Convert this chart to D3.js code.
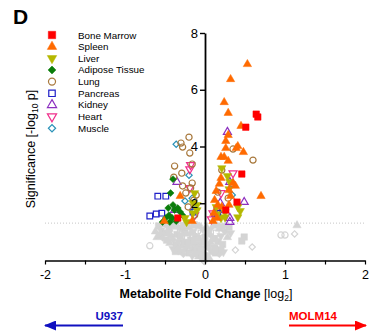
<!DOCTYPE html>
<html>
<head>
<meta charset="utf-8">
<script src="https://cdnjs.cloudflare.com/ajax/libs/d3/7.8.5/d3.min.js"></script>
<style>
  body { margin: 0; background: #fff; }
  svg { font-family: "Liberation Sans", Arial, sans-serif; }
</style>
</head>
<body>
<div class="chart"></div>
<script>
// tissue names, in legend order
var tissues = ["Bone Marrow", "Spleen", "Liver", "Adipose Tissue", "Lung", "Pancreas", "Kidney", "Heart", "Muscle"];
var tissueColors = ["#ff0000", "#ff6a00", "#b5b800", "#0a7d0a", "#a8783c", "#1f1fc8", "#8c2fc0", "#f0308c", "#2a92b8"];

var xTicks = [-2, -1.5, -1, -0.5, 0, 0.5, 1, 1.5, 2];
var xTickLabels = ["-2", "", "-1", "", "0", "", "1", "", "2"];
var yTicks = [2, 4, 6, 8];
var threshold = 1.3;

// significant metabolites per tissue: [log2 fold change, -log10 p]
var boneMarrow = [[0.64, 5.14], [0.66, 5.04], [0.51, 4.68], [0.46, 3.03], [0.40, 2.04], [0.26, 1.76], [-0.34, 1.48]];
var spleen = [[0.53, 6.90], [0.32, 6.37], [0.24, 5.56], [0.29, 5.18], [0.45, 4.72], [0.29, 4.40], [0.26, 4.19],
  [0.26, 3.94], [0.41, 4.01], [0.39, 3.94], [0.48, 3.80], [0.20, 3.63], [0.24, 3.63], [0.29, 3.49],
  [0.20, 2.89], [0.18, 2.68], [0.35, 2.71], [0.38, 2.61], [0.14, 2.43], [0.30, 2.46], [0.12, 2.11],
  [0.32, 2.25], [0.70, 2.25], [0.21, 1.87], [0.30, 1.94], [0.16, 1.94], [0.11, 1.65], [0.15, 1.48],
  [0.10, 1.37], [-0.31, 2.25], [-0.51, 1.37], [-0.16, 1.37]];
var liver = [[0.21, 3.24], [0.28, 2.96], [0.31, 2.75], [0.30, 2.50], [0.14, 1.87], [0.25, 1.69], [0.15, 1.62],
  [0.41, 1.87], [0.44, 1.73], [0.41, 1.51], [0.20, 1.48], [0.25, 1.51], [-0.15, 2.01], [-0.10, 1.94],
  [-0.15, 1.65], [-0.25, 1.48], [-0.13, 2.36], [-0.23, 1.34], [-0.10, 1.76]];
var adipose = [[-0.40, 2.85], [-0.43, 2.36], [-0.40, 1.94], [-0.45, 1.58], [-0.41, 1.48], [-0.53, 1.34],
  [-0.38, 1.76], [-0.31, 1.69], [-0.28, 1.58], [-0.36, 1.37], [-0.49, 1.48], [-0.44, 1.34], [-0.34, 1.83], [-0.46, 1.83]];
var lung = [[-0.20, 4.33], [-0.30, 4.12], [-0.28, 3.98], [-0.19, 3.77], [-0.38, 3.31], [-0.29, 3.06], [-0.16, 3.38],
  [-0.39, 2.92], [-0.28, 2.61], [-0.18, 2.54], [-0.16, 2.71], [-0.11, 2.29], [-0.21, 1.87], [-0.13, 1.58],
  [-0.24, 2.36], [-0.14, 2.11], [0.35, 3.91], [0.60, 3.52], [0.21, 3.17], [0.16, 2.39], [0.29, 2.18]];
var pancreas = [[-0.59, 2.25], [-0.49, 2.25], [-0.69, 1.55], [-0.61, 1.62], [-0.54, 1.65], [-0.15, 1.69], [0.15, 1.76], [0.16, 1.65]];
var kidney = [[0.28, 4.51], [0.31, 2.75], [0.35, 2.68], [0.49, 2.04], [0.19, 2.01], [0.16, 1.76], [0.31, 1.48],
  [0.31, 1.34], [-0.35, 2.75], [-0.38, 1.76], [0.14, 1.62]];
var heart = [[-0.18, 3.35], [-0.19, 3.20], [0.35, 3.06], [0.10, 1.65], [-0.19, 2.54], [-0.13, 1.58], [0.08, 1.44], [0.20, 2.36]];
var muscle = [[-0.36, 4.08], [-0.20, 2.99], [-0.25, 2.08], [-0.16, 2.18], [0.34, 2.29], [-0.13, 1.76]];

// not significant: [log2 fold change, -log10 p, tissue index]
var notSignificant = [
  [1.15, 1.22, 1], [0.95, 0.88, 4], [1.00, 0.88, 4], [1.12, 0.92, 8], [0.49, 0.81, 0], [0.46, 0.67, 0],
  [0.38, 0.35, 8], [0.59, 0.46, 8], [-0.69, 0.50, 4], [-0.60, 0.80, 1], [-0.09, 1.02, 4],
  [-0.55, 1.05, 2], [-0.50, 0.95, 0], [-0.45, 1.10, 1], [-0.42, 0.85, 3], [-0.38, 1.00, 5], [-0.35, 0.90, 0],
  [-0.32, 1.15, 2], [-0.30, 0.75, 1], [-0.28, 1.05, 3], [-0.25, 0.95, 0], [-0.22, 0.80, 5], [-0.20, 1.15, 1],
  [-0.18, 0.70, 0], [-0.15, 1.00, 2], [-0.12, 0.85, 3], [-0.10, 1.20, 1], [-0.08, 0.60, 0], [-0.05, 0.95, 5],
  [-0.03, 1.10, 2], [0.00, 0.80, 0], [-0.48, 0.70, 0], [-0.44, 0.60, 1], [-0.40, 0.72, 3], [-0.36, 0.55, 0],
  [-0.33, 0.65, 2], [-0.29, 0.50, 1], [-0.26, 0.62, 0], [-0.23, 0.45, 3], [-0.21, 0.58, 0], [-0.17, 0.40, 2],
  [-0.14, 0.55, 1], [-0.11, 0.35, 0], [-0.09, 0.48, 3], [-0.06, 0.30, 0], [-0.04, 0.42, 2], [-0.02, 0.25, 1],
  [-0.30, 0.30, 0], [-0.27, 0.20, 3], [-0.24, 0.35, 1], [-0.20, 0.25, 0], [-0.16, 0.15, 2], [-0.12, 0.22, 0],
  [-0.08, 0.12, 1], [-0.05, 0.18, 3], [-0.03, 0.08, 0], [0.00, 0.00, 8], [-0.01, -0.05, 8], [-0.40, 0.40, 2],
  [-0.37, 0.30, 0], [-0.34, 0.42, 3], [0.02, 1.15, 1], [0.04, 0.95, 0], [0.06, 1.05, 2], [0.08, 0.85, 3],
  [0.10, 1.20, 1], [0.12, 0.75, 0], [0.14, 0.95, 5], [0.16, 0.65, 0], [0.18, 1.10, 1], [0.20, 0.85, 2],
  [0.22, 0.55, 0], [0.25, 1.00, 3], [0.28, 0.80, 1], [0.30, 1.15, 0], [0.32, 0.95, 2], [0.03, 0.55, 0],
  [0.05, 0.40, 3], [0.07, 0.62, 1], [0.09, 0.30, 0], [0.11, 0.45, 2], [0.13, 0.25, 0], [0.15, 0.38, 1],
  [0.18, 0.20, 3], [0.20, 0.35, 0], [0.23, 0.28, 2], [0.02, 0.15, 0], [0.05, 0.08, 1], [-0.58, 1.20, 0],
  [-0.52, 1.25, 1], [-0.47, 1.18, 3], [-0.41, 1.22, 0], [-0.36, 1.25, 2], [-0.27, 1.22, 0], [-0.24, 1.18, 1],
  [-0.14, 1.24, 0], [-0.07, 1.22, 3], [-0.62, 1.00, 1], [-0.57, 0.88, 0], [-0.53, 0.78, 3], [-0.46, 0.95, 2],
  [-0.31, 0.85, 0], [-0.19, 0.92, 3], [-0.13, 0.68, 0], [-0.07, 0.75, 1], [-0.01, 0.62, 0], [0.26, 1.22, 1],
  [0.21, 1.18, 0], [0.15, 1.24, 3]
];

var series = [boneMarrow, spleen, liver, adipose, lung, pancreas, kidney, heart, muscle];

var svgWidth = 375,
    svgHeight = 334,
    margin = { top: 33, right: 10, bottom: 74, left: 45 },
    width = 320,
    height = svgHeight - margin.top - margin.bottom;

var svg = d3.select(".chart")
    .append("svg")
    .attr("width", svgWidth)
    .attr("height", svgHeight);

var chart = svg.append("g")
    .attr("transform", "translate(" + margin.left + "," + margin.top + ")");

var x = d3.scaleLinear().domain([-2, 2]).range([0, width]);
var y = d3.scaleLinear().domain([0, 8]).range([height, 0]);

// marker style per tissue index: symbol, rotation, filled, size
var markerStyle = [
  { type: d3.symbolSquare, rot: 0, filled: true, size: 42 },
  { type: d3.symbolTriangle, rot: 0, filled: true, size: 30 },
  { type: d3.symbolTriangle, rot: 180, filled: true, size: 30 },
  { type: d3.symbolSquare, rot: 45, filled: true, size: 24 },
  { type: d3.symbolCircle, rot: 0, filled: false, size: 30 },
  { type: d3.symbolSquare, rot: 0, filled: false, size: 32 },
  { type: d3.symbolTriangle, rot: 0, filled: false, size: 28 },
  { type: d3.symbolTriangle, rot: 180, filled: false, size: 28 },
  { type: d3.symbolSquare, rot: 45, filled: false, size: 20 }
];

function drawMarker(g, t, color, cx, cy, scale) {
  var s = markerStyle[t];
  g.append("path")
    .attr("d", d3.symbol().type(s.type).size(s.size * (scale || 1))())
    .attr("transform", "translate(" + cx + "," + cy + ") rotate(" + s.rot + ")")
    .attr("fill", s.filled ? color : "none")
    .attr("stroke", color)
    .attr("stroke-width", s.filled ? 0.5 : 1.2);
}

// threshold line (p = 0.05)
chart.append("line")
    .attr("x1", x(-2)).attr("x2", x(2))
    .attr("y1", y(threshold)).attr("y2", y(threshold))
    .attr("stroke", "#b8b8b8")
    .attr("stroke-width", 0.8)
    .attr("stroke-dasharray", "1,2");

// grey, non significant points
var greyG = chart.append("g");
notSignificant.forEach(function(d) {
  drawMarker(greyG, d[2], "#d4d4d4", x(d[0]), y(d[1]));
});

// coloured points, muscle at the bottom, bone marrow on top
var pointsG = chart.append("g");
for (var i = series.length - 1; i >= 0; i--) {
  series[i].forEach(function(d) {
    drawMarker(pointsG, i, tissueColors[i], x(d[0]), y(d[1]));
  });
}

// x axis
var xAxis = d3.axisBottom(x).tickValues(xTicks)
    .tickFormat(function(d, i) { return xTickLabels[i]; })
    .tickSize(4).tickSizeOuter(0);
var gx = chart.append("g")
    .attr("transform", "translate(0," + (height + 0.5) + ")")
    .call(xAxis);
gx.select(".domain").attr("stroke-width", 1.4);
gx.selectAll(".tick line").attr("stroke-width", 1.2);
gx.selectAll("text").attr("font-size", 12.5).attr("fill", "#000").attr("dy", "0.95em");

// y axis
var yAxis = d3.axisLeft(y).tickValues(yTicks).tickSize(5).tickSizeOuter(0);
var gy = chart.append("g")
    .attr("transform", "translate(" + x(0) + ",0)")
    .call(yAxis);
gy.select(".domain").attr("stroke-width", 1.8);
gy.selectAll(".tick line").attr("stroke-width", 1.4);
gy.selectAll("text").attr("font-size", 13).attr("fill", "#000").attr("x", -7);

// panel letter
svg.append("text")
    .attr("x", 13).attr("y", 24)
    .attr("font-size", 21).attr("font-weight", "bold")
    .text("D");

// y axis title
var yTitle = svg.append("text")
    .attr("transform", "translate(35,149) rotate(-90)")
    .attr("text-anchor", "middle")
    .attr("font-size", 12.5);
yTitle.append("tspan").text("Significance [-log");
yTitle.append("tspan").attr("font-size", 8.5).attr("dy", 3).text("10");
yTitle.append("tspan").attr("dy", -3).text(" p]");

// x axis title
var xTitle = svg.append("text")
    .attr("x", 206).attr("y", 298)
    .attr("text-anchor", "middle")
    .attr("font-size", 12.5);
xTitle.append("tspan").attr("font-weight", "bold").text("Metabolite Fold Change ");
xTitle.append("tspan").text("[log");
xTitle.append("tspan").attr("font-size", 8.5).attr("dy", 3).text("2");
xTitle.append("tspan").attr("dy", -3).text("]");

// legend
var legend = svg.append("g");
tissues.forEach(function(name, i) {
  var ly = 35 + i * 11.65;
  drawMarker(legend, i, tissueColors[i], 52, ly, 1.3);
  legend.append("text")
    .attr("x", 78).attr("y", ly + 3.5)
    .attr("font-size", 9.8)
    .text(name);
});

// direction arrows
var defs = svg.append("defs");
function arrowHead(id, color) {
  defs.append("marker")
    .attr("id", id)
    .attr("viewBox", "0 0 12 10")
    .attr("refX", 11).attr("refY", 5)
    .attr("markerWidth", 6).attr("markerHeight", 5)
    .attr("markerUnits", "strokeWidth")
    .attr("orient", "auto")
    .append("path")
    .attr("d", "M0,0L12,5L0,10Z")
    .attr("fill", color);
}
arrowHead("headBlue", "#1010c0");
arrowHead("headRed", "#ff0000");

var arrowY = 325.5;
svg.append("line")
    .attr("x1", margin.left + x(-1) - 2).attr("x2", margin.left + x(-2))
    .attr("y1", arrowY).attr("y2", arrowY)
    .attr("stroke", "#1010c0").attr("stroke-width", 2)
    .attr("marker-end", "url(#headBlue)");
svg.append("text")
    .attr("x", margin.left + x(-1) - 2).attr("y", 320)
    .attr("text-anchor", "end")
    .attr("font-size", 11.5).attr("font-weight", "bold")
    .attr("fill", "#1010c0")
    .text("U937");

svg.append("line")
    .attr("x1", margin.left + x(1) + 4).attr("x2", margin.left + x(2) + 1)
    .attr("y1", arrowY).attr("y2", arrowY)
    .attr("stroke", "#ff0000").attr("stroke-width", 2)
    .attr("marker-end", "url(#headRed)");
svg.append("text")
    .attr("x", margin.left + x(1) + 4).attr("y", 320)
    .attr("font-size", 11.5).attr("font-weight", "bold")
    .attr("fill", "#ff0000")
    .text("MOLM14");
</script>
</body>
</html>
